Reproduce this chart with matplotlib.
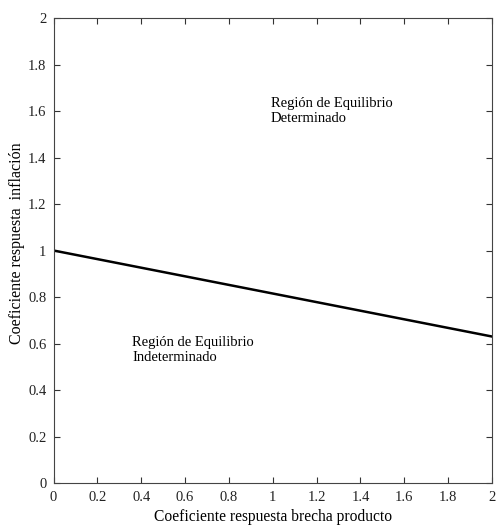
import matplotlib
matplotlib.use("Agg")
import matplotlib.pyplot as plt
import numpy as np

plt.rcParams['font.family'] = ['Liberation Serif', 'DejaVu Serif']

x_vals = [0.0, 2.0]
y_vals = [1.0, 0.63]
x_ticks = [0, 0.2, 0.4, 0.6, 0.8, 1, 1.2, 1.4, 1.6, 1.8, 2]
y_ticks = [0, 0.2, 0.4, 0.6, 0.8, 1, 1.2, 1.4, 1.6, 1.8, 2]
x_label = "Coeficiente respuesta brecha producto"
y_label = "Coeficiente respuesta  inflación"
label_upper = "Región de Equilibrio\nDeterminado"
label_lower = "Región de Equilibrio\nIndeterminado"

fig = plt.figure(figsize=(4.96, 5.25), dpi=100)
ax = fig.add_axes([53.5/496, 1 - 483/525, (492-53.5)/496, (483-18)/525])
ax.plot(x_vals, y_vals, color='black', linewidth=1.8)
ax.set_xlim(0, 2)
ax.set_ylim(0, 2)
ax.set_xticks(x_ticks)
ax.set_yticks(y_ticks)
ax.set_xticklabels([f"{t:g}" for t in x_ticks])
ax.set_yticklabels([f"{t:g}" for t in y_ticks])
ax.tick_params(direction='in', top=True, right=True, length=4, width=0.8,
               labelsize=10.5, colors='#333333', labelcolor='#222222')
ax.tick_params(axis='x', pad=6)
ax.tick_params(axis='y', pad=5)
for s in ax.spines.values():
    s.set_color('#444444')
    s.set_linewidth(0.8)
ax.set_xlabel(x_label, fontsize=11.2)
ax.xaxis.set_label_coords(0.5, -0.055)
ax.set_ylabel(y_label, fontsize=11.5)
ax.yaxis.set_label_coords(-0.066, 0.516)
ax.text(0.99, 1.659, label_upper, fontsize=10.5, va='top', ha='left', linespacing=1.15)
ax.text(0.36, 0.631, label_lower, fontsize=10.5, va='top', ha='left', linespacing=1.15)
fig.savefig("out.png", dpi=100)
